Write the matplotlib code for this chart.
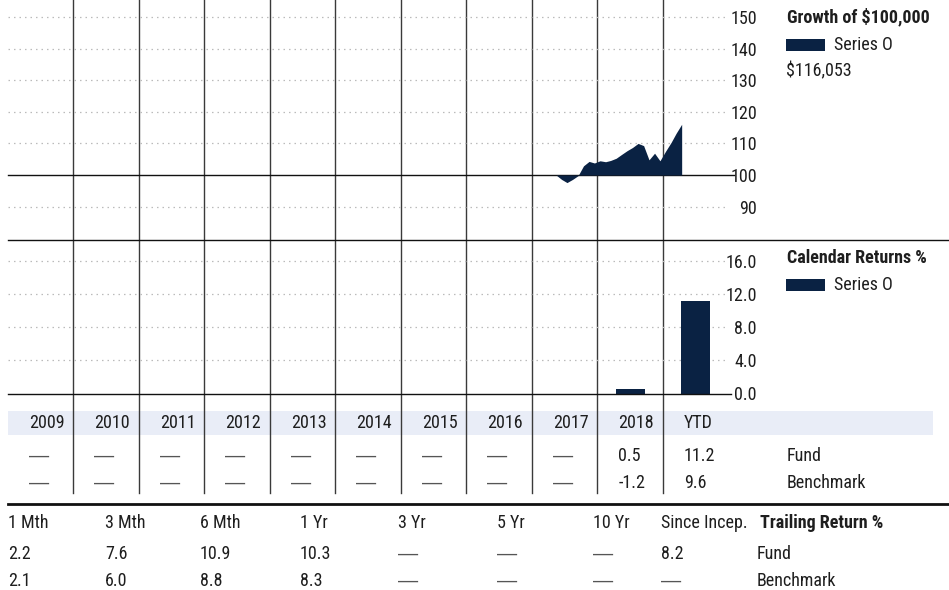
import numpy as np
import pandas as pd
import matplotlib
matplotlib.use('Agg')
import matplotlib.pyplot as plt
from matplotlib.patches import Rectangle
from matplotlib import font_manager

names = {f.name for f in font_manager.fontManager.ttflist}
narrow = [n for n in ['Roboto Condensed', 'Liberation Sans Narrow', 'Open Sans Condensed'] if n in names]
plt.rcParams['font.family'] = narrow + ['Roboto', 'DejaVu Sans']
FS = 13 if narrow else 11.2

NAVY = '#0a2243'
TXT = '#1e1e1e'
W, H = 949, 590

# ---- data ----
growth_dates = pd.date_range('2017-05-01', periods=24, freq='MS') + pd.Timedelta(days=14)
growth_values = [100.0, 98.6, 97.6, 98.6, 99.8, 102.9, 104.3, 103.8, 104.5, 104.2,
                 104.6, 105.3, 106.5, 107.7, 108.7, 110.0, 109.3, 104.8, 106.9, 104.5,
                 107.5, 110.3, 113.2, 116.053]
growth_end_label = '$116,053'

cal_labels = ['2009', '2010', '2011', '2012', '2013', '2014', '2015', '2016', '2017', '2018', 'YTD']
cal_fund = [None, None, None, None, None, None, None, None, None, 0.5, 11.2]
cal_bench = [None, None, None, None, None, None, None, None, None, -1.2, 9.6]

trail_labels = ['1 Mth', '3 Mth', '6 Mth', '1 Yr', '3 Yr', '5 Yr', '10 Yr', 'Since Incep.']
trail_fund = [2.2, 7.6, 10.9, 10.3, None, None, None, 8.2]
trail_bench = [2.1, 6.0, 8.8, 8.3, None, None, None, None]
trail_x = [8, 105, 200, 300, 398, 497, 593, 661]

growth_ticks = [90, 100, 110, 120, 130, 140, 150]
cal_ticks = [0, 4, 8, 12, 16]


def fr(x0, y0, x1, y1):
    return [x0 / W, 1 - y1 / H, (x1 - x0) / W, (y1 - y0) / H]


def put(ax, x, y, v, **kw):
    # numbers as text, missing values as a long grey dash
    if v is None:
        ax.text(x, y, '\u2014', fontsize=FS + 1.5, color='#555555', ha='left', va='center',
                family=['Liberation Sans', 'DejaVu Sans'])
    else:
        s = v if isinstance(v, str) else f'{v:.1f}'
        ax.text(x, y, s, fontsize=FS, color=TXT, ha='left', va='center', **kw)


fig = plt.figure(figsize=(W / 100, H / 100), dpi=100)

# overlay in pixel coordinates for the table structure
ov = fig.add_axes([0, 0, 1, 1], zorder=0)
ov.set_xlim(0, W)
ov.set_ylim(H, 0)
ov.axis('off')

left, right = 8, 728.5
colw = (right - left) / 11
ov.add_patch(Rectangle((8, 411), 925, 24, color='#e9edf7', lw=0))
for k in range(1, 11):
    xx = left + k * colw
    ov.plot([xx, xx], [0, 493], color='#3a3a3a', lw=1.0)
ov.plot([8, 949], [240, 240], color='#111111', lw=1.0)
ov.plot([8, 949], [503.5, 503.5], color='#111111', lw=2.0)

for k, lab in enumerate(cal_labels):
    x0 = left + k * colw + 21
    put(ov, x0, 423, lab)
    put(ov, x0, 456, cal_fund[k])
    put(ov, x0, 483, cal_bench[k])
put(ov, 787, 456, 'Fund')
put(ov, 787, 483, 'Benchmark')

for k, lab in enumerate(trail_labels):
    put(ov, trail_x[k], 523, lab)
    put(ov, trail_x[k], 554, trail_fund[k])
    put(ov, trail_x[k], 581, trail_bench[k])
put(ov, 760, 523, 'Trailing Return %', fontweight='bold')
put(ov, 757, 554, 'Fund')
put(ov, 757, 581, 'Benchmark')

# legends
put(ov, 787, 17, 'Growth of $100,000', fontweight='bold')
ov.add_patch(Rectangle((786, 39), 39, 12, color=NAVY, lw=0))
put(ov, 834, 45, 'Series O')
put(ov, 786, 71, growth_end_label)
put(ov, 787, 258, 'Calendar Returns %', fontweight='bold')
ov.add_patch(Rectangle((786, 279), 39, 12, color=NAVY, lw=0))
put(ov, 834, 285, 'Series O')

# ---- growth chart ----
ax_g = fig.add_axes(fr(left, 0, right, 240), zorder=1)
ax_g.set_facecolor('none')
gx = growth_dates.year + (growth_dates.dayofyear - 1) / 365.0
ax_g.fill_between(gx, 100, growth_values, color=NAVY, lw=0, zorder=3)
ax_g.set_xlim(2009, 2020)
ax_g.set_ylim(79.43, 155.38)
for t in growth_ticks:
    if t == 100:
        ax_g.axhline(t, xmin=0, xmax=1.007, color='#111111', lw=1.0, clip_on=False, zorder=2)
    else:
        ax_g.axhline(t, color='#bbbbbb', lw=0.9, ls=(0, (1.2, 3.2)), zorder=1)

# ---- calendar returns ----
ax_b = fig.add_axes(fr(left, 240, right, 393.5), zorder=1)
ax_b.set_facecolor('none')
bar_x = np.arange(len(cal_labels)) + 2009.5
bar_v = [0 if v is None else v for v in cal_fund]
ax_b.bar(bar_x, bar_v, width=0.44, color=NAVY, zorder=3)
ax_b.set_xlim(2009, 2020)
ax_b.set_ylim(0, 18.54)
for t in cal_ticks:
    if t == 0:
        ax_b.axhline(t, xmin=0, xmax=1.003, color='#111111', lw=1.0, clip_on=False, zorder=4)
    else:
        ax_b.axhline(t, color='#bbbbbb', lw=0.9, ls=(0, (1.2, 3.2)), zorder=1)

for ax, ticks, f in [(ax_g, growth_ticks, '{:.0f}'), (ax_b, cal_ticks, '{:.1f}')]:
    for s in ax.spines.values():
        s.set_visible(False)
    ax.set_xticks([])
    ax.yaxis.tick_right()
    ax.set_yticks(ticks)
    ax.set_yticklabels([f.format(t) for t in ticks])
    ax.tick_params(axis='y', length=0, pad=20.5, labelsize=FS, labelcolor=TXT)
    for lab in ax.get_yticklabels():
        lab.set_ha('right')

fig.savefig('out.png', dpi=100)
